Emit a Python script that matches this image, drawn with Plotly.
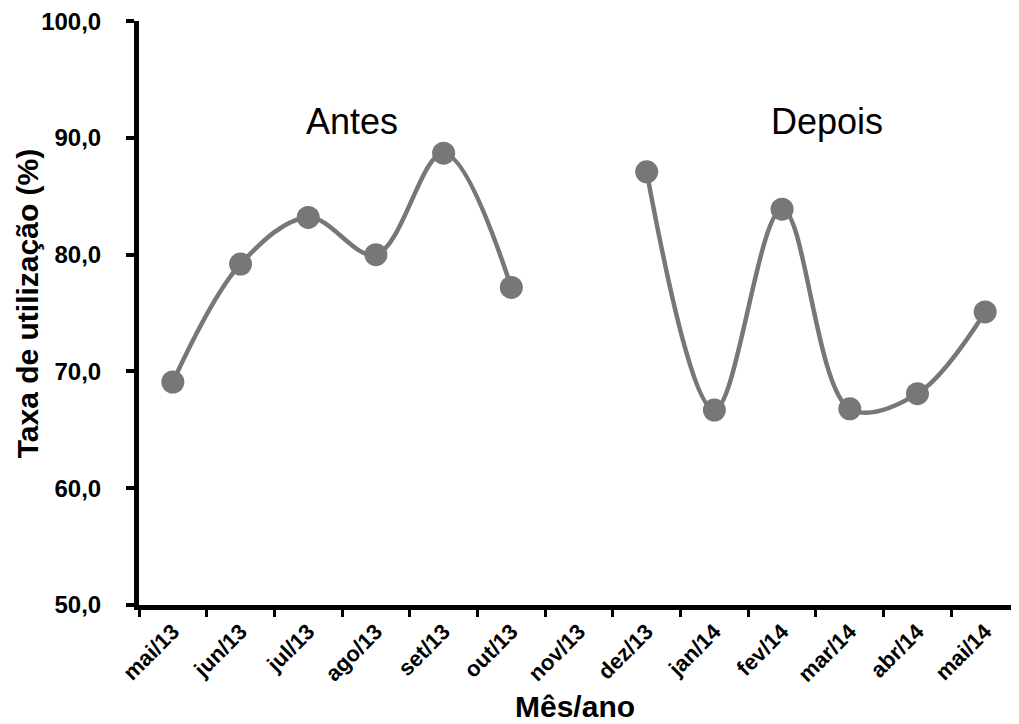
import plotly.graph_objects as go

categories = ["mai/13", "jun/13", "jul/13", "ago/13", "set/13", "out/13", "nov/13",
              "dez/13", "jan/14", "fev/14", "mar/14", "abr/14", "mai/14"]
taxa = [69.1, 79.2, 83.2, 80.0, 88.7, 77.2, None,
        87.1, 66.7, 83.9, 66.8, 68.1, 75.1]
y_ticks = [50, 60, 70, 80, 90, 100]

GRAY = "#777777"
FONT = "Liberation Sans, Arial, sans-serif"

fig = go.Figure()
fig.add_trace(go.Scatter(
    x=categories, y=taxa, mode="lines+markers",
    line=dict(color=GRAY, width=4.5, shape="spline", smoothing=1.0),
    marker=dict(color=GRAY, size=23),
    connectgaps=False, showlegend=False,
))

# page body has an 8px margin, so the figure is sized/offset to compensate
fig.update_layout(
    width=1011, height=716,
    margin=dict(l=131, r=0, t=13, b=119),
    paper_bgcolor="white", plot_bgcolor="white",
    separators=",.",
    font=dict(family=FONT, color="black"),
    xaxis=dict(
        type="category", range=[-0.5, 12.5],
        showline=True, linecolor="black", linewidth=5,
        ticks="outside", tickson="boundaries", ticklen=7, tickwidth=3, tickcolor="black",
        tickangle=-45, tickfont=dict(family=FONT, size=22, color="black", weight="bold"),
        showgrid=False, zeroline=False,
    ),
    yaxis=dict(
        range=[50, 100.02], tickvals=y_ticks, tickformat=".1f",
        ticklabeloverflow="allow", ticklabelstandoff=20,
        showline=True, linecolor="black", linewidth=5,
        ticks="outside", ticklen=8, tickwidth=4, tickcolor="black",
        tickfont=dict(family=FONT, size=24, color="black", weight="bold"),
        showgrid=False, zeroline=False,
    ),
    annotations=[
        dict(x=2.65, y=91.4, xref="x", yref="y", text="Antes", showarrow=False,
             font=dict(family=FONT, size=36, color="black"), xanchor="center", yanchor="middle"),
        dict(x=9.66, y=91.4, xref="x", yref="y", text="Depois", showarrow=False,
             font=dict(family=FONT, size=36, color="black"), xanchor="center", yanchor="middle"),
        dict(x=-0.127, y=0.517, xref="paper", yref="paper", text="Taxa de utilização (%)",
             showarrow=False, textangle=-90,
             font=dict(family=FONT, size=30, color="black", weight="bold"),
             xanchor="center", yanchor="middle"),
        dict(x=0.495, y=-0.173, xref="paper", yref="paper", text="Mês/ano",
             showarrow=False,
             font=dict(family=FONT, size=30, color="black", weight="bold"),
             xanchor="center", yanchor="middle"),
    ],
)

fig.write_html("out.html")
